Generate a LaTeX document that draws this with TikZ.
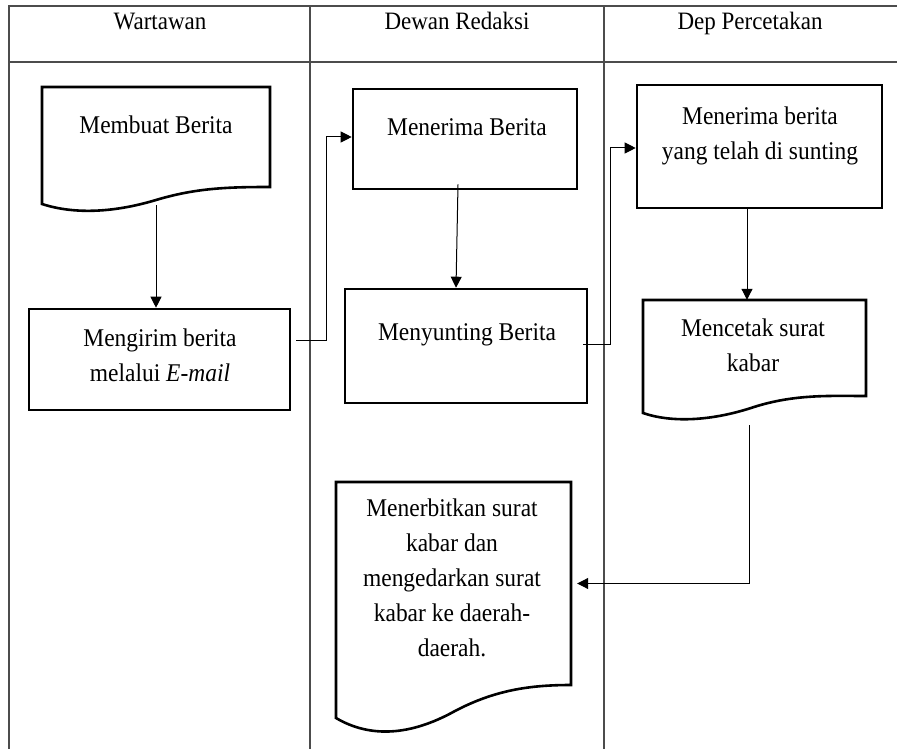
\documentclass[tikz,border=0pt]{standalone}
\usepackage{fontspec}
\setmainfont{Liberation Serif}[FakeStretch=0.92]
\usetikzlibrary{arrows.meta}
\begin{document}
\begin{tikzpicture}[x=1pt,y=-1pt,
  grid/.style={draw=black!70, line width=1.5pt},
  box/.style={draw=black, line width=2.6pt, rectangle, inner sep=0pt},
  area/.style={rectangle, inner sep=0pt},
  docline/.style={draw=black, line width=2.6pt, line join=miter},
  txt/.style={font=\fontsize{25.5}{35}\selectfont, align=center, inner sep=0pt},
  head/.style={font=\fontsize{25}{30}\selectfont, inner sep=0pt, anchor=base},
  arr/.style={draw=black, line width=1pt, -{Triangle[length=11pt,width=11pt]}},
  wire/.style={draw=black!80, line width=1.2pt}]
\useasboundingbox (0,0) rectangle (897,749);
\fill[white] (0,0) rectangle (897,749);

% swimlane table
\draw[grid] (9,749) -- (9,6) -- (897,6);
\draw[grid] (9,62) -- (897,62);
\draw[grid] (310,6) -- (310,749);
\draw[grid] (604,6) -- (604,749);
\node[head] (h1) at (160,30) {Wartawan};
\node[head] (h2) at (457,30) {Dewan Redaksi};
\node[head] (h3) at (750,30) {Dep Percetakan};

% Wartawan lane
\node[area, minimum width=228, minimum height=118] (membuat) at (156,146) {};
\draw[docline] (42,204) -- (42,87) -- (270,87) -- (270,187)
  .. controls (228,187) and (196,188) .. (156,200)
  .. controls (116,212) and (76,215) .. (42,204) -- cycle;
\node[txt] (membuatT) at (156,125) {Membuat Berita};

\node[box, minimum width=261, minimum height=101] (mengirim) at (159.5,359.5) {};
\node[txt] (mengirimT) at (160,355) {Mengirim berita\\melalui \textit{E-mail}};

% Dewan Redaksi lane
\node[box, minimum width=224, minimum height=100] (menerima) at (465,139) {};
\node[txt] (menerimaT) at (467,127) {Menerima Berita};

\node[box, minimum width=242, minimum height=114] (menyunting) at (466,346) {};
\node[txt] (menyuntingT) at (467,335) {Menyunting Berita};

\node[area, minimum width=235, minimum height=203] (terbit) at (453.5,583.5) {};
\draw[docline] (336,718) -- (336,482) -- (571,482) -- (571,685)
  .. controls (530,685) and (495,690) .. (455,711)
  .. controls (410,736) and (370,738) .. (336,718) -- cycle;
\node[txt] (terbitT) at (452,578) {Menerbitkan surat\\kabar dan\\mengedarkan surat\\kabar ke daerah-\\daerah.};

% Dep Percetakan lane
\node[box, minimum width=245, minimum height=123] (sunting) at (759.5,146.5) {};
\node[txt] (suntingT) at (760,136) {Menerima berita\\yang telah di sunting};

\node[area, minimum width=223, minimum height=120] (cetak) at (754.5,360) {};
\draw[docline] (643,413) -- (643,300) -- (866,300) -- (866,396)
  .. controls (830,396) and (795,394) .. (754,407)
  .. controls (712,421) and (672,423) .. (643,413) -- cycle;
\node[txt] (cetakT) at (753,345) {Mencetak surat\\kabar};

% connectors
\draw[arr] (membuat.south) -- (membuat.south |- mengirim.north);
\draw[arr] ([xshift=5pt,yshift=19pt]mengirim.east) -- ++(30,0)
  |- ([yshift=2pt]menerima.west);
\draw[arr] ([xshift=-7pt,yshift=6pt]menerima.south) -- ([xshift=-10pt]menyunting.north);
\draw[arr] ([xshift=-5pt,yshift=2pt]menyunting.east) -- ++(27,0)
  |- ([yshift=-1.5pt]sunting.west);
\draw[arr] ([xshift=-12.5pt]sunting.south) -- ([xshift=-12.5pt]sunting.south |- cetak.north);
\draw[arr] ([xshift=-5.5pt,yshift=-5pt]cetak.south) |- ([xshift=6pt]terbit.east);
\end{tikzpicture}
\end{document}
